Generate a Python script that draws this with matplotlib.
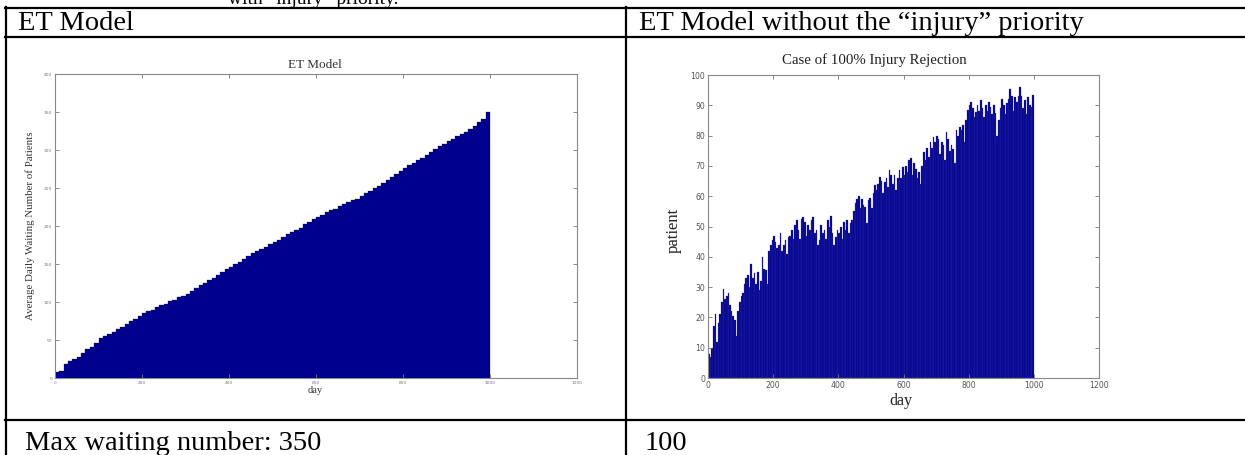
import matplotlib
matplotlib.use('Agg')
from matplotlib import pyplot as plt
from matplotlib.lines import Line2D
import numpy as np

W, H = 1245, 455

# ET Model: average daily waiting patients, one value per 10 days (day 0..990)
et_values = [7.5, 9, 19, 22, 25, 27, 33, 38, 41, 46,
             52, 55, 58, 61, 64, 67, 71, 75, 78, 82,
             85, 88, 90, 93, 96, 98, 101, 103, 106, 108,
             111, 115, 118, 122, 125, 129, 132, 136, 139, 143,
             146, 150, 153, 157, 160, 164, 167, 170, 173, 176,
             179, 182, 185, 189, 192, 195, 198, 202, 205, 209,
             212, 215, 218, 221, 223, 226, 229, 231, 234, 236,
             239, 243, 246, 250, 253, 257, 261, 265, 268, 272,
             276, 280, 283, 287, 290, 294, 298, 301, 305, 308,
             312, 315, 318, 321, 324, 327, 332, 337, 341, 350]

# without injury priority: patients, one value per 5 days (day 0..995)
rej_values = [8, 7, 10, 17, 21, 12, 18, 21, 25, 29.5,
              26, 27, 28, 24, 22, 20.5, 19, 14, 22, 25,
              27, 28, 31, 33, 34, 30, 37.5, 33, 34.5, 31,
              35, 29, 32, 40, 36, 35.5, 31, 42, 44, 45.5,
              47, 45, 43, 44, 48, 42, 44, 45.5, 41, 46.5,
              47, 49, 46, 50.5, 52, 49, 46, 52.5, 53, 51.5,
              47, 50.5, 49, 52, 53, 48, 49, 44, 45.5, 50.5,
              48, 49, 46, 52, 50, 53.5, 48, 44, 46.5, 49,
              48, 50, 46, 51.5, 49, 52, 48, 51, 52, 55,
              57.6, 59, 60, 56, 59, 57, 56.5, 51, 58.7, 59.3,
              56, 61, 63.7, 62, 64, 66.5, 65, 61, 64.8, 66,
              63, 68.6, 67, 64, 67, 62, 66, 68.6, 66, 69.7,
              67, 70, 68, 71.9, 72.5, 67, 70.8, 69, 66, 68,
              64, 70, 74.6, 72, 76, 73, 77.9, 76, 79.6, 78,
              80, 79, 74, 78, 76.8, 72, 81.2, 79, 75, 77,
              75.7, 71, 81.8, 80, 83, 82, 83.4, 78, 85, 88.4,
              90, 91.1, 89, 86, 87.8, 90, 88, 91.7, 89, 86,
              90, 88, 91, 89.5, 87, 90, 87.3, 80, 85, 89,
              92.2, 90, 87, 90.6, 92, 95.5, 93, 88, 92.8, 91,
              93, 96.1, 93, 89, 91.7, 87, 92.8, 90, 89.5, 93.3]

header_left = 'ET Model'
header_right = 'ET Model without the \u201cinjury\u201d priority'
footer_left = 'Max waiting number: 350'
footer_right = '100'
caption_tail = 'with \u201cinjury\u201d priority.'

BAR = '#00008f'
SERIF = ['Liberation Serif', 'DejaVu Serif']
CELL_FS = 20.5


def fbox(x0, y0, x1, y1):
    # pixel box (top-left origin) -> figure fraction rect
    return [x0 / W, 1 - y1 / H, (x1 - x0) / W, (y1 - y0) / H]


def hline(fig, y, x0=5, x1=W):
    fig.add_artist(Line2D([x0 / W, x1 / W], [1 - y / H, 1 - y / H],
                          color='black', lw=1.6, transform=fig.transFigure))


def vline(fig, x, y0=7, y1=H):
    fig.add_artist(Line2D([x / W, x / W], [1 - y0 / H, 1 - y1 / H],
                          color='black', lw=1.6, transform=fig.transFigure))


def matlab_axes(ax, xmax, ymax, ystep, tick_size, tick_color):
    ax.set_xlim(0, xmax)
    ax.set_ylim(0, ymax)
    ax.set_xticks(np.arange(0, xmax + 1, 200))
    ax.set_yticks(np.arange(0, ymax + 1, ystep))
    ax.tick_params(direction='in', top=True, right=True, length=3, width=0.6,
                   colors='#777777', labelcolor=tick_color, labelsize=tick_size, pad=2)
    for s in ax.spines.values():
        s.set_color('#888888')
        s.set_linewidth(0.8)


fig = plt.figure(figsize=(W / 100, H / 100), dpi=100)

# table frame
hline(fig, 8)
hline(fig, 37)
hline(fig, 420)
vline(fig, 6)
vline(fig, 626)

# tail of the caption above the table, cut by the page edge
fig.text(228 / W, 1 - 4 / H, caption_tail, family=SERIF, fontsize=14, va='baseline')
fig.text(18 / W, 1 - 23 / H, header_left, family=SERIF, fontsize=CELL_FS, va='center')
fig.text(639 / W, 1 - 23 / H, header_right, family=SERIF, fontsize=CELL_FS, va='center')
fig.text(25 / W, 1 - 450 / H, footer_left, family=SERIF, fontsize=CELL_FS, va='baseline')
fig.text(645 / W, 1 - 450 / H, footer_right, family=SERIF, fontsize=CELL_FS, va='baseline')

# left chart
ax1 = fig.add_axes(fbox(55, 74, 577, 378))
x1 = np.arange(len(et_values)) * 10
ax1.bar(x1, et_values, width=10, align='edge', color=BAR, edgecolor=BAR, linewidth=0.2)
matlab_axes(ax1, 1200, 400, 50, 3.2, '#777777')
ax1.set_xlabel('day', family=SERIF, fontsize=7.5, color='#333333')
ax1.xaxis.set_label_coords(0.498, -0.026)
ax1.set_ylabel('Average Daily Waiting Number of Patients', family=SERIF, fontsize=7.8, color='#333333')
ax1.yaxis.set_label_coords(-0.038, 0.5)
fig.text(315 / W, 1 - 65 / H, 'ET Model', family=SERIF, fontsize=9.5, color='#333333',
         ha='center', va='center')

# right chart
ax2 = fig.add_axes(fbox(708, 75, 1099, 378))
x2 = np.arange(len(rej_values)) * 5
ax2.bar(x2, rej_values, width=5, align='edge', color=BAR, edgecolor='#3c3cab', linewidth=0.2)
matlab_axes(ax2, 1200, 100, 10, 5.6, '#555555')
ax2.set_xlabel('day', family=SERIF, fontsize=11.5, color='#222222')
ax2.xaxis.set_label_coords(0.494, -0.05)
ax2.set_ylabel('patient', family=SERIF, fontsize=12, color='#222222')
ax2.yaxis.set_label_coords(-0.066, 0.488)
fig.text(874 / W, 1 - 60 / H, 'Case of 100% Injury Rejection', family=SERIF, fontsize=10.7,
         color='#222222', ha='center', va='center')

fig.savefig('out.png', dpi=100)
